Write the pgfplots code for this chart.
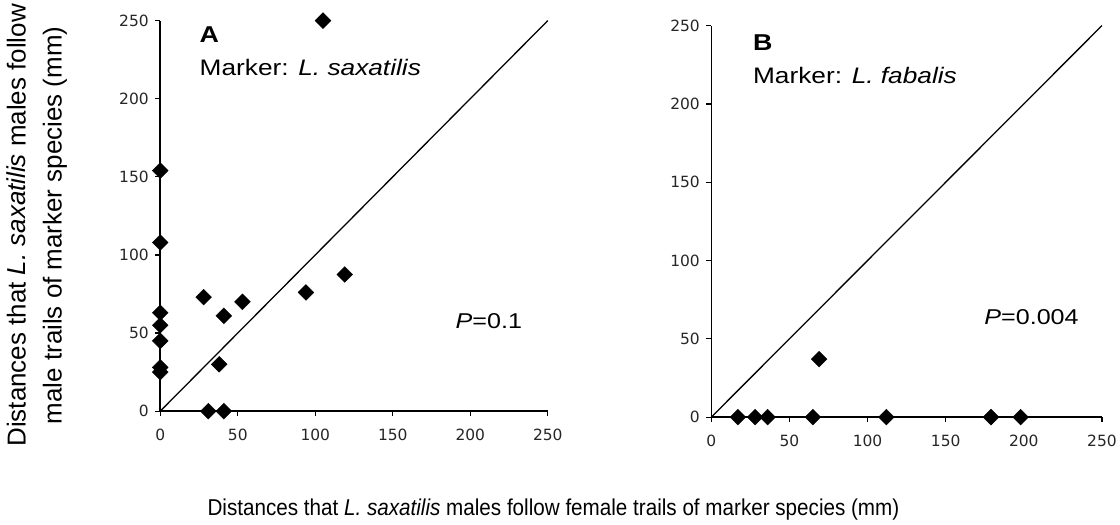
\documentclass[border=0pt]{standalone}
\usepackage{pgfplots}
\pgfplotsset{compat=1.18}
\usepackage{fontspec}
\setmainfont{Liberation Sans}
\newfontfamily\tickfont{DejaVu Sans}
\newcommand{\wide}[1]{\scalebox{1.17}[1]{#1}}
\begin{document}
\begin{tikzpicture}[x=1pt,y=1pt]
\path (0,0) rectangle (1120,526);
\pgfplotsset{
 panel/.style={
  scale only axis, width=388.6pt, height=391.6pt,
  xmin=0,xmax=250,ymin=0,ymax=250,
  axis lines=left, axis line style={line width=1.6pt, -},
  xtick={0,50,...,250}, ytick={0,50,...,250},
  tick style={line width=1.2pt, black}, tick align=outside, major tick length=5pt,
  tick label style={font=\tickfont\fontsize{15.5}{15.5}\selectfont, text=black!85},
  xticklabel style={yshift=-9pt},
  yticklabel style={xshift=-3pt},
  /pgf/number format/assume math mode=true,
  clip=false,
 },
 pts/.style={only marks, mark=square*, mark size=5.6pt, mark options={rotate=45, fill=black, draw=black}},
}
\begin{axis}[panel, at={(160.7pt,113.7pt)}, anchor=south west]
\addplot[black, line width=1.3pt] coordinates {(0,0) (250,250)};
\addplot[pts] coordinates {
(105,250) (0,154) (0,108) (0,63) (0,55) (0,45) (0,28) (0,25)
(28,73) (53,70) (41,61) (38,30) (31,0) (41,0) (94,76) (119,87.5)
};
\node[anchor=base west, inner sep=0pt, font=\bfseries\fontsize{23}{23}\selectfont] at (axis cs:25.3,236) {\wide{A}};
\node[anchor=base west, inner sep=0pt, font=\fontsize{22.5}{22.5}\selectfont] at (axis cs:25.3,215) {\wide{Marker: \textit{L. saxatilis}}};
\node[anchor=base west, inner sep=0pt, font=\fontsize{21.5}{21.5}\selectfont] at (axis cs:190.5,52.6) {\wide{\textit{P}=0.1}};
\end{axis}
\begin{axis}[panel, at={(713.3pt,107.7pt)}, anchor=south west, width=391.7pt, height=392.6pt]
\addplot[black, line width=1.3pt] coordinates {(0,0) (250,250)};
\addplot[pts] coordinates {
(17,0) (28,0) (36,0) (65,0) (112,0) (179,0) (198,0) (69,37)
};
\node[anchor=base west, inner sep=0pt, font=\bfseries\fontsize{23}{23}\selectfont] at (axis cs:26.6,234) {\wide{B}};
\node[anchor=base west, inner sep=0pt, font=\fontsize{22.5}{22.5}\selectfont] at (axis cs:26.6,213) {\wide{Marker: \textit{L. fabalis}}};
\node[anchor=base west, inner sep=0pt, font=\fontsize{21.5}{21.5}\selectfont] at (axis cs:174.7,59.4) {\wide{\textit{P}=0.004}};
\end{axis}
\node[rotate=90, align=center, inner sep=0pt, font=\fontsize{26}{36}\selectfont] at (37,300) {Distances that \textit{L. saxatilis} males follow\\male trails of marker species (mm)};
\node[anchor=base, inner sep=0pt, font=\fontsize{23}{24}\selectfont] at (555,9) {\scalebox{0.9}[1]{Distances that \textit{L. saxatilis} males follow female trails of marker species (mm)}};
\end{tikzpicture}
\end{document}
